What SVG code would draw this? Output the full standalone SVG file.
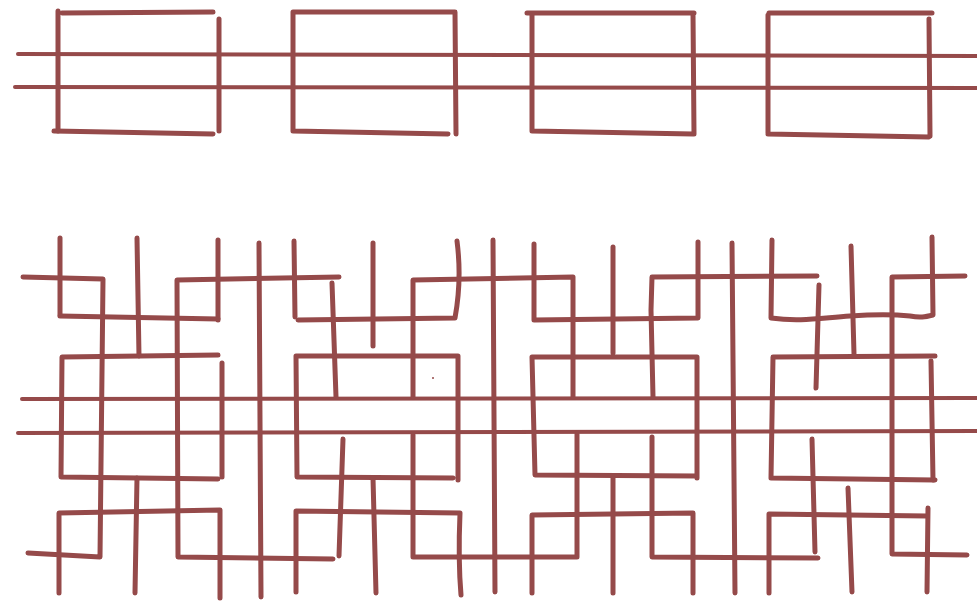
<svg xmlns="http://www.w3.org/2000/svg" width="977" height="603" viewBox="0 0 977 603">
<style>
.s{fill:none;stroke:#954a4a;stroke-width:5;stroke-linecap:round;stroke-linejoin:round}
.t{fill:none;stroke:#954a4a;stroke-width:4;stroke-linecap:round}
</style>
<rect width="977" height="603" fill="#ffffff"/>
<g id="top">
<path class="t" d="M18,54 L977,56"/>
<path class="t" d="M15,87 L977,88"/>
<path class="s" d="M58,11 L58,131"/>
<path class="s" d="M62,13 L213,12" stroke-width="6"/>
<path class="s" d="M219,19 L219,131"/>
<path class="s" d="M54,131 L213,134" stroke-width="6"/>
<path class="s" d="M293,12 L293,131 M293,12 L455,12 L456,134 M293,131 L448,134"/>
<path class="s" d="M527,13 L694,13 M532,13 L532,131 M693,13 L694,134 M532,131 L693,134"/>
<path class="s" d="M769,13 L932,13 M768,15 L768,133 M929,19 L930,136 M768,134 L929,137"/>
</g>
<g id="bottom">
<path class="t" d="M22,399 L977,398"/>
<path class="t" d="M18,433 L977,431"/>
<path class="s" d="M60,238 L60,315"/>
<path class="s" d="M23,277 L103,279 L100,557 L28,553"/>
<path class="s" d="M60,316 L218,319"/>
<path class="s" d="M137,238 L139,356"/>
<path class="s" d="M339,277 L177,280 L178,557 L333,559"/>
<path class="s" d="M218,240 L218,320"/>
<path class="s" d="M218,355 L62,357 L61,477 L218,479"/>
<path class="s" d="M222,363 L222,477"/>
<path class="s" d="M137,478 L135,593"/>
<path class="s" d="M59,593 L59,513 L220,510 L220,598"/>
<path class="s" d="M259,243 L261,597"/>
<path class="s" d="M294,241 L295,317"/>
<path class="s" d="M332,283 L336,397"/>
<path class="s" d="M457,241 Q462,280 455,318 L298,320"/>
<path class="s" d="M373,243 L373,346"/>
<path class="s" d="M573,397 L573,277 L413,280 L413,397"/>
<path class="s" d="M458,480 L458,356 L296,356 L297,477 L453,478"/>
<circle cx="433" cy="378" r="1" fill="#954a4a"/>
<path class="s" d="M343,439 L339,556"/>
<path class="s" d="M373,478 L376,593"/>
<path class="s" d="M413,435 L413,557 L577,557 L577,434"/>
<path class="s" d="M296,592 L296,511 L460,513 Q458,560 461,595"/>
<path class="s" d="M493,240 L495,592"/>
<path class="s" d="M534,244 L534,320 L698,318 L698,242"/>
<path class="s" d="M613,247 L613,353"/>
<path class="s" d="M653,397 L651,310 L652,277 L817,276"/>
<path class="s" d="M697,478 L697,357 L532,357 L535,475 L697,476"/>
<path class="s" d="M652,437 L652,557 L818,558"/>
<path class="s" d="M613,478 L613,593"/>
<path class="s" d="M532,593 L532,515 L693,513 L693,593"/>
<path class="s" d="M732,243 L735,593"/>
<path class="s" d="M772,240 L771,318 C800,322 820,318 850,316 C880,314 900,315 910,316 C920,318 925,317 933,315 L932,237"/>
<path class="s" d="M819,285 L816,388"/>
<path class="s" d="M851,246 L854,354"/>
<path class="s" d="M965,276 L892,277 L892,554 L967,555"/>
<path class="s" d="M935,356 L773,357 L771,478 L935,480"/>
<path class="s" d="M931,361 L933,480"/>
<path class="s" d="M812,439 L815,552"/>
<path class="s" d="M848,488 L852,592"/>
<path class="s" d="M769,593 L769,514 L927,516"/>
<path class="s" d="M928,508 L927,592"/>
</g>
</svg>
